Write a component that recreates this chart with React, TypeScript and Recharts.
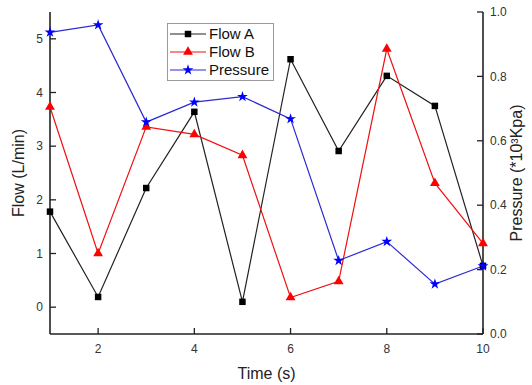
import React from 'react';
import { LineChart, Line, XAxis, YAxis, Legend, Symbols, Label } from 'recharts';

const times = [1, 2, 3, 4, 5, 6, 7, 8, 9, 10];
const flowA = [1.78, 0.19, 2.22, 3.64, 0.1, 4.62, 2.91, 4.31, 3.75, 0.77];
const flowB = [3.73, 1.0, 3.36, 3.22, 2.83, 0.18, 0.48, 4.81, 2.31, 1.19];
const pressure = [0.937, 0.96, 0.658, 0.72, 0.737, 0.668, 0.228, 0.287, 0.155, 0.211];
const timeTicks = [2, 4, 6, 8, 10];
const flowTicks = [0, 1, 2, 3, 4, 5];
const pressureTicks = [0, 0.2, 0.4, 0.6, 0.8, 1.0];

const data = times.map((t, i) => ({ time: t, flowA: flowA[i], flowB: flowB[i], pressure: pressure[i] }));

const FONT = '"Liberation Sans", Arial, sans-serif';

const series = [
  { key: 'flowA', name: 'Flow A', line: '#222', fill: '#000', shape: 'square', size: 42, axis: 'left' },
  { key: 'flowB', name: 'Flow B', line: '#f01010', fill: '#ff0000', shape: 'triangle', size: 42, axis: 'left' },
  { key: 'pressure', name: 'Pressure', line: '#2a2ad0', fill: '#0000ff', shape: 'star', size: 36, axis: 'right' },
];

const makeDot = (type: any, fill: string, size: number) => (props: any) => {
  const { cx, cy, index } = props;
  if (cx == null || cy == null) return <g key={`e-${type}-${index}`} />;
  return <Symbols key={`${type}-${index}`} type={type} size={size} cx={cx} cy={cy} fill={fill} stroke="none" />;
};

const leftTitle = (props: any) => {
  const vb = props.viewBox;
  const x = vb.x + 18;
  const y = vb.y + vb.height / 2;
  return (
    <text x={x} y={y} transform={`rotate(-90, ${x}, ${y})`} textAnchor="middle" dominantBaseline="central" fontSize={16} fill="#222" fontFamily={FONT}>
      Flow (L/min)
    </text>
  );
};

const rightTitle = (props: any) => {
  const vb = props.viewBox;
  const x = vb.x + 33;
  const y = vb.y + vb.height / 2;
  return (
    <text x={x} y={y} transform={`rotate(-90, ${x}, ${y})`} textAnchor="middle" dominantBaseline="central" fontSize={16} fill="#222" fontFamily={FONT}>
      Pressure (*10³Kpa)
    </text>
  );
};

const bottomTitle = (props: any) => {
  const vb = props.viewBox;
  const x = vb.x + vb.width / 2;
  const y = vb.y + 39;
  return (
    <text x={x} y={y} textAnchor="middle" dominantBaseline="central" fontSize={16} fill="#222" fontFamily={FONT}>
      Time (s)
    </text>
  );
};

const legendContent = () => (
  <div style={{ border: '1px solid #9a9a9a', background: '#fff', padding: '1px 4px 1px 1px', fontFamily: FONT, fontSize: 15, color: '#111' }}>
    {series.map((s) => (
      <div key={s.key} style={{ display: 'flex', alignItems: 'center', height: 18, lineHeight: '18px' }}>
        <svg width={38} height={18} style={{ display: 'block' }}>
          <line x1={1} y1={9} x2={37} y2={9} stroke={s.line} strokeWidth={1.2} />
          <Symbols type={s.shape as any} size={s.size} cx={19} cy={9} fill={s.fill} stroke="none" />
        </svg>
        <span style={{ marginLeft: 2 }}>{s.name}</span>
      </div>
    ))}
  </div>
);

const tickStyle = { fontSize: 12, fill: '#333', fontFamily: FONT };
const axisLine = { stroke: '#222', strokeWidth: 1.6 };
const tickLine = { stroke: '#222', strokeWidth: 1.3 };

export default function App() {
  return (
    <div style={{ position: 'absolute', left: 0, top: 0, width: 532, height: 385, background: '#fff' }}>
      <LineChart width={532} height={385} data={data} margin={{ top: 12, right: 0, bottom: 0, left: 0 }} style={{ fontFamily: FONT }}>
        <XAxis
          dataKey="time"
          type="number"
          domain={[1, 10]}
          ticks={timeTicks}
          height={51}
          tickSize={-6}
          tickMargin={16}
          tick={tickStyle}
          axisLine={axisLine}
          tickLine={tickLine}
        >
          <Label content={bottomTitle} />
        </XAxis>
        <XAxis
          xAxisId="top"
          orientation="top"
          dataKey="time"
          type="number"
          domain={[1, 10]}
          height={0}
          tick={false}
          tickLine={false}
          axisLine={axisLine}
        />
        <YAxis
          yAxisId="left"
          orientation="left"
          type="number"
          domain={[-0.5, 5.5]}
          ticks={flowTicks}
          width={50}
          tickSize={-6}
          tickMargin={13}
          tick={tickStyle}
          axisLine={axisLine}
          tickLine={tickLine}
        >
          <Label content={leftTitle} />
        </YAxis>
        <YAxis
          yAxisId="right"
          orientation="right"
          type="number"
          domain={[0, 1]}
          ticks={pressureTicks}
          width={49}
          tickSize={-6}
          tickMargin={13}
          tick={tickStyle}
          tickFormatter={(v: number) => v.toFixed(1)}
          axisLine={axisLine}
          tickLine={tickLine}
        >
          <Label content={rightTitle} />
        </YAxis>
        <Legend
          layout="vertical"
          align="center"
          verticalAlign="middle"
          content={legendContent}
          wrapperStyle={{ position: 'absolute', left: 167, top: 23, width: 'auto', height: 'auto' }}
        />
        {series.map((s) => (
          <Line
            key={s.key}
            yAxisId={s.axis}
            type="linear"
            dataKey={s.key}
            name={s.name}
            stroke={s.line}
            strokeWidth={1.2}
            dot={makeDot(s.shape, s.fill, s.size)}
            activeDot={false}
            isAnimationActive={false}
          />
        ))}
      </LineChart>
    </div>
  );
}
